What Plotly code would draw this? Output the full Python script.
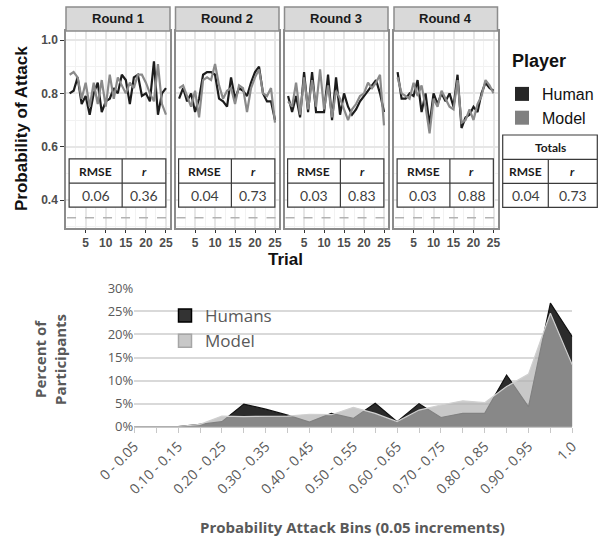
import plotly.graph_objects as go

W, H = 599, 542
def px(x): return x / W
def py(y): return 1 - y / H

# ---------------- data ----------------
trials = list(range(1, 26))
round_names = ["Round 1", "Round 2", "Round 3", "Round 4"]

human_r1 = [0.80, 0.81, 0.86, 0.76, 0.79, 0.72, 0.80, 0.84, 0.73, 0.77, 0.78, 0.82, 0.80,
            0.87, 0.85, 0.76, 0.86, 0.87, 0.79, 0.80, 0.77, 0.92, 0.72, 0.80, 0.82]
model_r1 = [0.87, 0.88, 0.86, 0.78, 0.84, 0.75, 0.84, 0.76, 0.85, 0.75, 0.87, 0.78, 0.86,
            0.83, 0.80, 0.84, 0.82, 0.87, 0.87, 0.84, 0.80, 0.77, 0.91, 0.76, 0.72]
human_r2 = [0.78, 0.82, 0.77, 0.80, 0.73, 0.78, 0.87, 0.88, 0.88, 0.87, 0.78, 0.77, 0.75,
            0.86, 0.78, 0.82, 0.81, 0.79, 0.84, 0.88, 0.90, 0.80, 0.77, 0.77, 0.70]
model_r2 = [0.82, 0.83, 0.79, 0.75, 0.81, 0.71, 0.85, 0.86, 0.85, 0.91, 0.83, 0.78, 0.81,
            0.82, 0.76, 0.83, 0.82, 0.73, 0.82, 0.86, 0.89, 0.80, 0.79, 0.82, 0.69]
human_r3 = [0.79, 0.73, 0.79, 0.71, 0.88, 0.73, 0.88, 0.73, 0.73, 0.73, 0.87, 0.70, 0.86,
            0.72, 0.80, 0.75, 0.72, 0.74, 0.77, 0.79, 0.81, 0.83, 0.85, 0.80, 0.73]
model_r3 = [0.77, 0.75, 0.84, 0.72, 0.86, 0.74, 0.85, 0.75, 0.89, 0.74, 0.83, 0.71, 0.81,
            0.78, 0.74, 0.70, 0.74, 0.76, 0.79, 0.80, 0.84, 0.82, 0.84, 0.87, 0.68]
human_r4 = [0.88, 0.78, 0.78, 0.80, 0.79, 0.85, 0.73, 0.80, 0.68, 0.80, 0.76, 0.80, 0.77,
            0.80, 0.75, 0.87, 0.67, 0.71, 0.72, 0.75, 0.73, 0.80, 0.84, 0.82, 0.81]
model_r4 = [0.86, 0.80, 0.79, 0.78, 0.84, 0.79, 0.83, 0.75, 0.65, 0.78, 0.75, 0.81, 0.78,
            0.75, 0.74, 0.85, 0.69, 0.70, 0.74, 0.70, 0.76, 0.79, 0.85, 0.83, 0.80]
human_rounds = [human_r1, human_r2, human_r3, human_r4]
model_rounds = [model_r1, model_r2, model_r3, model_r4]

rmse_vals = ["0.06", "0.04", "0.03", "0.03"]
r_vals = ["0.36", "0.73", "0.83", "0.88"]
total_rmse, total_r = "0.04", "0.73"
chance_level = 1 / 3

y_ticks_top = [0.4, 0.6, 0.8, 1.0]
x_ticks_top = [5, 10, 15, 20, 25]

bins = ["0 - 0.05", "0.05 - 0.10", "0.10 - 0.15", "0.15 - 0.20", "0.20 - 0.25",
        "0.25 - 0.30", "0.30 - 0.35", "0.35 - 0.40", "0.40 - 0.45", "0.45 - 0.50",
        "0.50 - 0.55", "0.55 - 0.60", "0.60 - 0.65", "0.65 - 0.70", "0.70 - 0.75",
        "0.75 - 0.80", "0.80 - 0.85", "0.85 - 0.90", "0.90 - 0.95", "0.95 - 1.0", "1.0"]
humans_pct = [0, 0, 0, 0.5, 1.1, 4.9, 3.8, 2.5, 1.0, 2.9, 1.8, 5.1, 1.1, 5.0, 2.0,
              2.9, 2.9, 11.2, 4.3, 26.8, 19.5]
model_pct = [0, 0, 0, 0.5, 2.3, 2.2, 2.2, 2.3, 2.7, 2.6, 4.2, 2.9, 1.1, 3.6, 4.7,
             5.6, 5.2, 8.7, 11.4, 24.6, 13.4]

# ---------------- layout constants ----------------
HUMAN_C = "#1c1c1c"
MODEL_C = "#8a8a8a"
BORDER = "#8c8c8c"
panel_px = [(66, 170), (175.5, 279), (284.5, 388), (394, 497.5)]
top_y0, top_y1 = 228, 31          # pixel bottom / top of panels
strip_top = 7
FONT_TOP = "Liberation Sans"
FONT_TAB = "Lato"
FONT_XL = "Open Sans"

fig = go.Figure()
layout = dict(width=W, height=H, margin=dict(l=0, r=0, t=0, b=0, autoexpand=False),
              paper_bgcolor="white", plot_bgcolor="white", showlegend=True)
shapes, annotations = [], []

for i in range(4):
    n = i + 1
    xa = "x" if n == 1 else f"x{n}"
    ya = "y" if n == 1 else f"y{n}"
    xk = "xaxis" if n == 1 else f"xaxis{n}"
    yk = "yaxis" if n == 1 else f"yaxis{n}"
    fig.add_trace(go.Scatter(x=trials, y=human_rounds[i], mode="lines",
                             line=dict(color=HUMAN_C, width=2.2), xaxis=xa, yaxis=ya,
                             showlegend=False, hoverinfo="skip"))
    fig.add_trace(go.Scatter(x=trials, y=model_rounds[i], mode="lines",
                             line=dict(color=MODEL_C, width=2.2), xaxis=xa, yaxis=ya,
                             showlegend=False, hoverinfo="skip"))
    layout[xk] = dict(domain=[px(panel_px[i][0]), px(panel_px[i][1])], anchor=ya,
                      range=[0.1, 26], tickvals=x_ticks_top, ticks="outside", ticklen=3,
                      tickcolor="#333", tickwidth=1.2,
                      tickfont=dict(family=FONT_TOP, size=12, color="#4d4d4d", weight="bold"),
                      showgrid=True, gridcolor="#e6e6e6", gridwidth=1.5,
                      minor=dict(tick0=0, dtick=2.5, showgrid=True, gridcolor="#f2f2f2", gridwidth=1),
                      showline=True, mirror=True, linecolor=BORDER, linewidth=1.5,
                      zeroline=False)
    layout[yk] = dict(domain=[py(top_y0), py(top_y1)], anchor=xa,
                      range=[0.295, 1.034], tickvals=y_ticks_top,
                      ticktext=[f"{v:.1f}" for v in y_ticks_top],
                      showticklabels=(n == 1), ticks="outside" if n == 1 else "",
                      ticklen=4, tickcolor="#333", tickwidth=1.2,
                      tickfont=dict(family=FONT_TOP, size=12, color="#4d4d4d", weight="bold"),
                      showgrid=True, gridcolor="#e6e6e6", gridwidth=1.5,
                      minor=dict(tick0=0, dtick=0.1, showgrid=True, gridcolor="#f2f2f2", gridwidth=1),
                      showline=True, mirror=True, linecolor=BORDER, linewidth=1.5,
                      zeroline=False)
    xd = f"{xa} domain"
    # strip
    shapes.append(dict(type="rect", xref=xd, yref="paper", x0=0, x1=1,
                       y0=py(top_y1), y1=py(strip_top), fillcolor="#d9d9d9",
                       line=dict(color=BORDER, width=1.5)))
    annotations.append(dict(text=round_names[i], xref=xd, yref="paper", x=0.5,
                            y=py((top_y1 + strip_top) / 2), showarrow=False,
                            font=dict(family=FONT_TOP, size=13, color="#1a1a1a", weight="bold")))
    # chance line
    shapes.append(dict(type="line", xref=xd, yref=ya, x0=0.01, x1=0.99,
                       y0=chance_level, y1=chance_level,
                       line=dict(color="#b3b3b3", width=1.5, dash="dash")))
    # table
    tx0, tx1, tdiv = 0.03, 0.96, 0.54
    ty0, tym, ty1 = 0.373, 0.463, 0.554
    shapes.append(dict(type="rect", xref=xd, yref=ya, x0=tx0, x1=tx1, y0=ty0, y1=ty1,
                       fillcolor="white", line=dict(color="#3a3a3a", width=1.2), layer="above"))
    shapes.append(dict(type="line", xref=xd, yref=ya, x0=tx0, x1=tx1, y0=tym, y1=tym,
                       line=dict(color="#3a3a3a", width=1.2), layer="above"))
    shapes.append(dict(type="line", xref=xd, yref=ya, x0=tdiv, x1=tdiv, y0=ty0, y1=ty1,
                       line=dict(color="#3a3a3a", width=1.2), layer="above"))
    annotations += [
        dict(text="<b>RMSE</b>", xref=xd, yref=ya, x=(tx0 + tdiv) / 2, y=(tym + ty1) / 2,
             showarrow=False, font=dict(family=FONT_TAB, size=12, color="#1a1a1a")),
        dict(text="<b><i>r</i></b>", xref=xd, yref=ya, x=(tdiv + tx1) / 2, y=(tym + ty1) / 2,
             showarrow=False, font=dict(family=FONT_TAB, size=12, color="#1a1a1a")),
        dict(text=rmse_vals[i], xref=xd, yref=ya, x=(tx0 + tdiv) / 2, y=(ty0 + tym) / 2,
             showarrow=False, font=dict(family=FONT_TAB, size=14, color="#404040")),
        dict(text=r_vals[i], xref=xd, yref=ya, x=(tdiv + tx1) / 2, y=(ty0 + tym) / 2,
             showarrow=False, font=dict(family=FONT_TAB, size=14, color="#404040")),
    ]

# Totals table (paper coords)
L, R, D = 502.7, 597.3, 548.3
T0, T1, T2, T3 = 135, 159.3, 183.3, 207.3
shapes.append(dict(type="rect", xref="paper", yref="paper", x0=px(L), x1=px(R),
                   y0=py(T3), y1=py(T0), line=dict(color="#3a3a3a", width=1.2)))
for yy in (T1, T2):
    shapes.append(dict(type="line", xref="paper", yref="paper", x0=px(L), x1=px(R),
                       y0=py(yy), y1=py(yy), line=dict(color="#3a3a3a", width=1.2)))
shapes.append(dict(type="line", xref="paper", yref="paper", x0=px(D), x1=px(D),
                   y0=py(T3), y1=py(T1), line=dict(color="#3a3a3a", width=1.2)))
annotations += [
    dict(text="<b>Totals</b>", xref="paper", yref="paper", x=px((L + R) / 2), y=py((T0 + T1) / 2),
         showarrow=False, font=dict(family=FONT_TAB, size=12, color="#1a1a1a")),
    dict(text="<b>RMSE</b>", xref="paper", yref="paper", x=px((L + D) / 2), y=py((T1 + T2) / 2),
         showarrow=False, font=dict(family=FONT_TAB, size=12, color="#1a1a1a")),
    dict(text="<b><i>r</i></b>", xref="paper", yref="paper", x=px((D + R) / 2), y=py((T1 + T2) / 2),
         showarrow=False, font=dict(family=FONT_TAB, size=12, color="#1a1a1a")),
    dict(text=total_rmse, xref="paper", yref="paper", x=px((L + D) / 2), y=py((T2 + T3) / 2),
         showarrow=False, font=dict(family=FONT_TAB, size=14, color="#404040")),
    dict(text=total_r, xref="paper", yref="paper", x=px((D + R) / 2), y=py((T2 + T3) / 2),
         showarrow=False, font=dict(family=FONT_TAB, size=14, color="#404040")),
]

# top titles
annotations += [
    dict(text="Probability of Attack", xref="paper", yref="paper", x=px(21), y=py(129),
         textangle=-90, showarrow=False,
         font=dict(family=FONT_TOP, size=17, color="#111", weight="bold")),
    dict(text="Trial", xref="paper", yref="paper", x=px(285), y=py(260), showarrow=False,
         font=dict(family=FONT_TOP, size=17, color="#111", weight="bold")),
    dict(text="Player", xref="paper", yref="paper", x=px(510), y=py(61), showarrow=False,
         xanchor="left", font=dict(family=FONT_TOP, size=18, color="#111", weight="bold")),
]

# top legend (Player)
for name, c in (("Human", "#262626"), ("Model", "#808080")):
    fig.add_trace(go.Scatter(x=[None], y=[None], mode="markers", name=name,
                             marker=dict(symbol="square", size=14, color=c),
                             legend="legend", hoverinfo="skip"))

# ---------------- bottom area chart ----------------
idx = list(range(len(bins)))
fig.add_trace(go.Scatter(x=idx, y=humans_pct, mode="lines", fill="tozeroy",
                         fillcolor="#2b2b2b", line=dict(color="#111", width=1.2),
                         xaxis="x5", yaxis="y5", showlegend=False, hoverinfo="skip"))
fig.add_trace(go.Scatter(x=idx, y=model_pct, mode="lines", fill="tozeroy",
                         fillcolor="rgba(176,176,176,0.7)", line=dict(color="#d0d0d0", width=1.2),
                         xaxis="x5", yaxis="y5", showlegend=False, hoverinfo="skip"))
for name, c, lc in (("Humans", "#333333", "#000000"), ("Model", "#c8c8c8", "#a6a6a6")):
    fig.add_trace(go.Scatter(x=[None], y=[None], mode="markers", name=name,
                             marker=dict(symbol="square", size=13, color=c,
                                         line=dict(color=lc, width=1.5)),
                             legend="legend2", xaxis="x5", yaxis="y5", hoverinfo="skip"))

layout["xaxis5"] = dict(domain=[px(134.3), px(572.3)], anchor="y5", range=[0, 20],
                        tickvals=idx, ticktext=[b if k % 2 == 0 else "" for k, b in enumerate(bins)],
                        tickangle=-45, ticks="outside", ticklen=5, tickcolor="#c8c8c8",
                        tickfont=dict(family=FONT_XL, size=14, color="#595959"),
                        showgrid=False, showline=True, linecolor="#c8c8c8", linewidth=1.2,
                        zeroline=False)
layout["yaxis5"] = dict(domain=[py(426.7), py(288.3)], anchor="x5", range=[0, 30],
                        dtick=5, ticksuffix="%", tickfont=dict(family=FONT_XL, size=13, color="#595959"),
                        showgrid=True, gridcolor="#d9d9d9", gridwidth=1.5,
                        showline=False, zeroline=False, ticks="")
annotations += [
    dict(text="Percent of<br>Participants", xref="paper", yref="paper", x=px(50), y=py(360),
         textangle=-90, showarrow=False,
         font=dict(family=FONT_XL, size=15, color="#595959", weight="bold")),
    dict(text="Probability Attack Bins (0.05 increments)", xref="paper", yref="paper",
         x=px(352), y=py(527), showarrow=False,
         font=dict(family=FONT_XL, size=15, color="#595959", weight="bold")),
]
for a in annotations:
    a.setdefault("xanchor", "center")
    a.setdefault("yanchor", "middle")

layout["legend"] = dict(x=px(502), y=py(77), xanchor="left", yanchor="top",
                        bgcolor="rgba(0,0,0,0)", tracegroupgap=0, itemwidth=30,
                        font=dict(family=FONT_TOP, size=16, color="#111"))
layout["legend2"] = dict(x=px(165), y=py(298), xanchor="left", yanchor="top",
                         bgcolor="rgba(0,0,0,0)", itemwidth=30,
                         font=dict(family=FONT_XL, size=17, color="#595959"))
layout["shapes"] = shapes
layout["annotations"] = annotations
fig.update_layout(**layout)
fig.write_html("out.html")
